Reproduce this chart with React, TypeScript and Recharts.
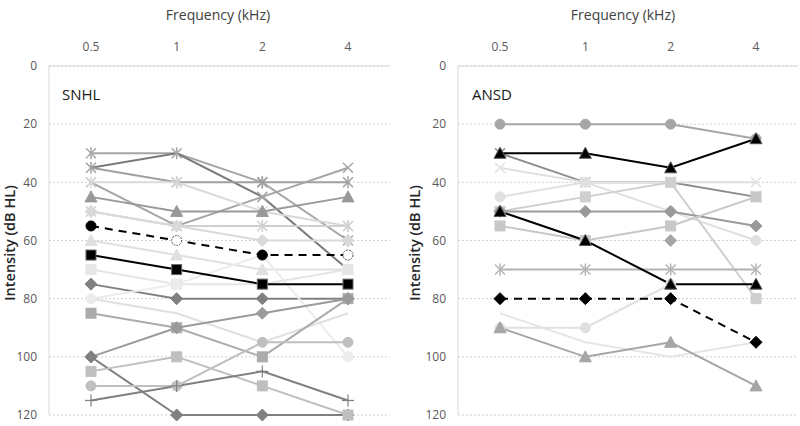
import React from "react";
import { LineChart, Line, XAxis, YAxis, CartesianGrid } from "recharts";

const freqs = ["0.5", "1", "2", "4"];
const yTicks = [0, 20, 40, 60, 80, 100, 120];

// SNHL thresholds (dB HL) at 0.5, 1, 2, 4 kHz
const snhlValues: (number | null)[][] = [
  [30, 30, 40, 60],
  [35, 30, 45, 70],
  [35, 40, 40, 40],
  [40, 55, 45, 35],
  [40, 40, 50, 55],
  [45, 50, 50, 45],
  [50, 55, 55, 55],
  [50, 55, 60, 60],
  [55, 60, 65, 65],
  [60, 65, 70, 70],
  [65, 70, 75, 75],
  [70, 75, 75, 70],
  [75, 80, 80, 80],
  [80, 75, 65, 100],
  [80, 85, 95, 85],
  [85, 90, 100, 80],
  [100, 90, 85, 80],
  [100, 120, 120, 120],
  [105, 100, 110, 120],
  [110, 110, 95, 95],
  [115, 110, 105, 115],
];

// ANSD thresholds
const ansdValues: (number | null)[][] = [
  [20, 20, 20, 25],
  [30, 30, 35, 25],
  [30, 40, 40, 45],
  [35, 40, 40, 40],
  [45, 40, 50, 60],
  [50, 45, 40, 80],
  [50, 50, 50, 55],
  [50, 60, 75, 75],
  [55, 60, 55, 45],
  [null, null, 60, null],
  [70, 70, 70, 70],
  [80, 80, 80, 95],
  [85, 95, 100, 95],
  [90, 90, 75, null],
  [90, 100, 95, 110],
];

type Shape = "circle" | "square" | "triangle" | "diamond" | "x" | "star" | "plus" | "none";
type Style = { shape: Shape; color: string; dashed?: boolean };

const snhlStyles: Style[] = [
  { shape: "star", color: "#a6a6a6" },
  { shape: "none", color: "#7a7a7a" },
  { shape: "star", color: "#a0a0a0" },
  { shape: "x", color: "#a6a6a6" },
  { shape: "star", color: "#d9d9d9" },
  { shape: "triangle", color: "#999999" },
  { shape: "star", color: "#d0d0d0" },
  { shape: "diamond", color: "#d9d9d9" },
  { shape: "circle", color: "#000000", dashed: true },
  { shape: "triangle", color: "#e0e0e0" },
  { shape: "square", color: "#000000" },
  { shape: "square", color: "#e6e6e6" },
  { shape: "diamond", color: "#808080" },
  { shape: "circle", color: "#ececec" },
  { shape: "none", color: "#e0e0e0" },
  { shape: "square", color: "#ababab" },
  { shape: "diamond", color: "#9a9a9a" },
  { shape: "diamond", color: "#808080" },
  { shape: "square", color: "#bfbfbf" },
  { shape: "circle", color: "#bfbfbf" },
  { shape: "plus", color: "#808080" },
];

const ansdStyles: Style[] = [
  { shape: "circle", color: "#a6a6a6" },
  { shape: "triangle", color: "#000000" },
  { shape: "x", color: "#8c8c8c" },
  { shape: "x", color: "#e0e0e0" },
  { shape: "circle", color: "#e0e0e0" },
  { shape: "square", color: "#cfcfcf" },
  { shape: "diamond", color: "#9a9a9a" },
  { shape: "triangle", color: "#000000" },
  { shape: "square", color: "#c8c8c8" },
  { shape: "diamond", color: "#a6a6a6" },
  { shape: "star", color: "#b3b3b3" },
  { shape: "diamond", color: "#000000", dashed: true },
  { shape: "none", color: "#e6e6e6" },
  { shape: "circle", color: "#e0e0e0" },
  { shape: "triangle", color: "#a6a6a6" },
];

function buildRows(values: (number | null)[][]) {
  return freqs.map((f, i) => {
    const row: Record<string, any> = { freq: f };
    values.forEach((v, k) => {
      row["s" + k] = v[i];
    });
    return row;
  });
}

function renderMarker(style: Style, key: string) {
  return (props: any) => {
    const { cx, cy, index, value } = props;
    const k = `${key}-${index}`;
    if (cx == null || cy == null || value == null || style.shape === "none") return <g key={k} />;
    const c = style.color;
    const open = style.dashed && style.shape === "circle" && index % 2 === 1;
    switch (style.shape) {
      case "circle":
        return <circle key={k} cx={cx} cy={cy} r={5} fill={open ? "#fff" : c} stroke={open ? "#555" : c} strokeWidth={1} strokeDasharray={open ? "2 1" : undefined} />;
      case "square":
        return <rect key={k} x={cx - 5} y={cy - 5} width={10} height={10} fill={c} stroke={c === "#000000" ? "#666" : c} />;
      case "triangle":
        return <polygon key={k} points={`${cx},${cy - 6} ${cx - 6},${cy + 5} ${cx + 6},${cy + 5}`} fill={c} stroke={c === "#000000" ? "#555" : c} />;
      case "diamond":
        return <polygon key={k} points={`${cx},${cy - 6} ${cx + 6},${cy} ${cx},${cy + 6} ${cx - 6},${cy}`} fill={c} stroke={c} />;
      case "x":
        return (
          <g key={k} stroke={c} strokeWidth={1.5}>
            <line x1={cx - 5} y1={cy - 5} x2={cx + 5} y2={cy + 5} />
            <line x1={cx - 5} y1={cy + 5} x2={cx + 5} y2={cy - 5} />
          </g>
        );
      case "star":
        return (
          <g key={k} stroke={c} strokeWidth={1.5}>
            <line x1={cx - 5} y1={cy - 5} x2={cx + 5} y2={cy + 5} />
            <line x1={cx - 5} y1={cy + 5} x2={cx + 5} y2={cy - 5} />
            <line x1={cx} y1={cy - 6} x2={cx} y2={cy + 6} />
          </g>
        );
      case "plus":
        return (
          <g key={k} stroke={c} strokeWidth={1.2}>
            <line x1={cx - 6} y1={cy} x2={cx + 6} y2={cy} />
            <line x1={cx} y1={cy - 6} x2={cx} y2={cy + 6} />
          </g>
        );
      default:
        return <g key={k} />;
    }
  };
}

const font = "'Open Sans', 'Noto Sans', sans-serif";

function Panel({ values, styles, yAxisWidth, rightMargin }: {
  values: (number | null)[][];
  styles: Style[];
  yAxisWidth: number;
  rightMargin: number;
}) {
  const rows = buildRows(values);
  const order = styles.map((s, i) => i);
  const isBlack = (i: number) => styles[i].color === "#000000";
  const sorted = [...order.filter((i) => !isBlack(i)), ...order.filter(isBlack)];
  return (
    <LineChart width={400} height={426} data={rows} margin={{ top: 0, right: rightMargin, bottom: 11, left: 0 }}>
      <CartesianGrid vertical={false} strokeDasharray="2 2" stroke="#cfcfcf" />
      <XAxis
        dataKey="freq"
        orientation="top"
        height={66}
        padding={{ left: 42, right: 42 }}
        tickSize={0}
        tickMargin={15}
        axisLine={{ stroke: "#d9d9d9" }}
        tick={{ fill: "#595959", fontSize: 12, fontFamily: font }}
      />
      <YAxis
        type="number"
        domain={[0, 120]}
        reversed
        ticks={yTicks}
        width={yAxisWidth}
        tickSize={0}
        tickMargin={12}
        axisLine={{ stroke: "#d9d9d9" }}
        tick={{ fill: "#595959", fontSize: 12, fontFamily: font }}
      />
      {sorted.map((i) => (
        <Line
          key={"s" + i}
          dataKey={"s" + i}
          stroke={styles[i].color}
          strokeWidth={2}
          strokeDasharray={styles[i].dashed ? "8 6" : undefined}
          dot={renderMarker(styles[i], "s" + i)}
          activeDot={false}
          isAnimationActive={false}
          connectNulls={false}
        />
      ))}
    </LineChart>
  );
}

const textBase: React.CSSProperties = { position: "absolute", fontFamily: font, whiteSpace: "nowrap" };
const centered = "translate(-50%, -50%)";

export default function App() {
  return (
    <div style={{ position: "absolute", left: 0, top: 0, width: 800, height: 426, background: "#fff", overflow: "hidden" }}>
      <div style={{ position: "absolute", left: 0, top: 0 }}>
        <Panel values={snhlValues} styles={snhlStyles} yAxisWidth={49} rightMargin={10} />
      </div>
      <div style={{ position: "absolute", left: 400, top: 0 }}>
        <Panel values={ansdValues} styles={ansdStyles} yAxisWidth={58} rightMargin={2} />
      </div>
      <div style={{ ...textBase, left: 218, top: 14, fontSize: 14, color: "#404040", transform: centered }}>Frequency (kHz)</div>
      <div style={{ ...textBase, left: 623, top: 14, fontSize: 14, color: "#404040", transform: centered }}>Frequency (kHz)</div>
      <div style={{ ...textBase, left: 62, top: 84, fontSize: 15, color: "#1a1a1a" }}>SNHL</div>
      <div style={{ ...textBase, left: 472, top: 84, fontSize: 15, color: "#1a1a1a" }}>ANSD</div>
      <div style={{ ...textBase, left: 9, top: 243, fontSize: 14.5, fontWeight: 600, color: "#262626", transform: centered + " rotate(-90deg)" }}>Intensity (dB HL)</div>
      <div style={{ ...textBase, left: 414, top: 243, fontSize: 14.5, fontWeight: 600, color: "#262626", transform: centered + " rotate(-90deg)" }}>Intensity (dB HL)</div>
    </div>
  );
}
